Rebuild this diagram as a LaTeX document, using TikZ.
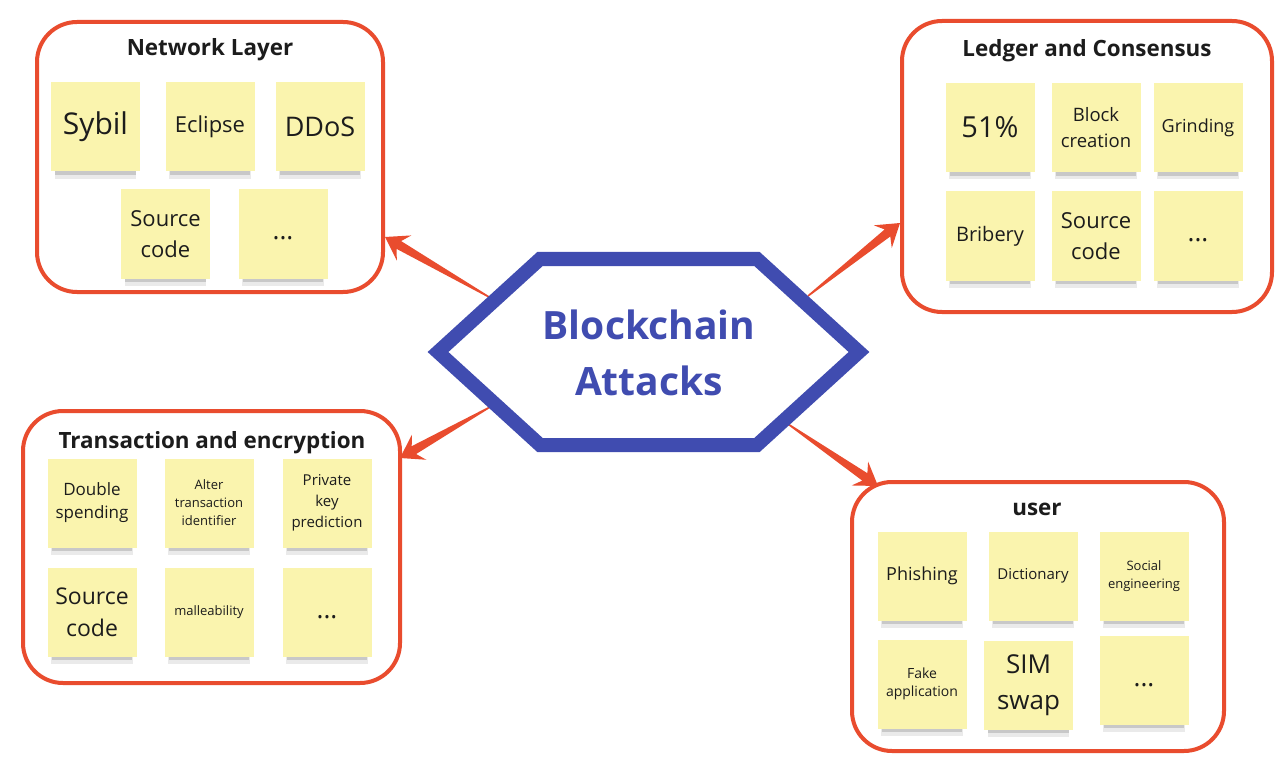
\documentclass[tikz,border=0pt]{standalone}
\usepackage{fontspec}
\setmainfont{Open Sans}
\usetikzlibrary{calc,shadows}
\definecolor{boxred}{RGB}{233,76,46}
\definecolor{hexblue}{RGB}{64,76,176}
\definecolor{sticky}{RGB}{250,244,174}
\definecolor{ink}{RGB}{28,28,28}
\newcommand\fs[2]{\fontsize{#1}{#2}\selectfont}
\newcommand\taperarrow[2]{%
  \path coordinate (tmpj) at ($(#2)!16pt!(#1)$)
        coordinate (tmpb) at ($(#2)!22pt!(#1)$);
  \fill[boxred] ($(#1)!0.8pt!90:(#2)$) -- ($(tmpj)!4.5pt!90:(#2)$)
     -- ($(tmpb)!14.5pt!90:(#2)$) -- (#2) -- ($(tmpb)!14.5pt!-90:(#2)$)
     -- ($(tmpj)!4.5pt!-90:(#2)$) -- ($(#1)!0.8pt!-90:(#2)$) -- cycle;}
\tikzset{
  group/.style={draw=boxred, line width=4pt, rounded corners=40pt, inner sep=0pt},
  gtitle/.style={anchor=base, text=ink, font=\bfseries\fs{22.4}{26}, inner sep=0pt},
  note/.style={fill=sticky, minimum width=89pt, minimum height=89pt, inner sep=0pt,
    align=center, text=ink,
    general shadow={fill=black!45, opacity=0.18, shadow yshift=-12pt, shadow scale=0.92},
    general shadow={fill=black!60, opacity=0.25, shadow yshift=-9pt, shadow scale=0.9}},
  hextext/.style={anchor=base, text=hexblue, font=\bfseries\fs{39}{46}, inner sep=0pt}
}
\begin{document}
\begin{tikzpicture}[x=1pt, y=-1pt]
\fill[white] (0,0) rectangle (1288,770);
\useasboundingbox (0,0) rectangle (1288,770);

% group boxes
\node[group, minimum width=346pt, minimum height=270pt] (net) at (210,157) {};
\node[group, minimum width=370pt, minimum height=291pt] (ledger) at (1087,166.5) {};
\node[group, minimum width=377pt, minimum height=272pt] (trans) at (211.5,547) {};
\node[group, minimum width=372pt, minimum height=269pt] (user) at (1038,616.5) {};

% titles
\node[gtitle] (tnet) at (210,56) {Network Layer};
\node[gtitle] (tledger) at (1087,56.5) {Ledger and Consensus};
\node[gtitle] (ttrans) at (212,448) {Transaction and encryption};
\node[gtitle] (tuser) at (1037,515) {user};

% Network layer notes
\node[note, font=\fs{30}{36}] (sybil) at (95.5,127) {Sybil};
\node[note, font=\fs{22}{26}] (eclipse) at (210,127) {Eclipse};
\node[note, font=\fs{27}{32}] (ddos) at (320,127) {DDoS};
\node[note, font=\fs{22}{31}] (src1) at (165.5,234) {Source\\code};
\node[note, font=\fs{26}{30}] (more1) at (283,234) {\strut...};

% Ledger notes
\node[note, font=\fs{29}{34}] (fiftyone) at (990,127.5) {51\%};
\node[note, font=\fs{18.5}{26}] (blockc) at (1096,127.5) {Block\\creation};
\node[note, font=\fs{18}{22}] (grind) at (1198,127.5) {Grinding};
\node[note, font=\fs{20}{24}] (bribe) at (990,236) {Bribery};
\node[note, font=\fs{22}{31}] (src2) at (1096,236) {Source\\code};
\node[note, font=\fs{26}{30}] (more2) at (1198,236) {\strut...};

% Transaction notes
\node[note, font=\fs{17}{23}] (double) at (92,503) {Double\\spending};
\node[note, font=\fs{13}{18}] (alter) at (209,503) {Alter\\transaction\\identifier};
\node[note, font=\fs{15}{21}] (privk) at (327,503) {Private\\key\\prediction};
\node[note, font=\fs{23}{32}] (src3) at (92,612) {Source\\code};
\node[note, font=\fs{13}{16}] (malle) at (209,612) {malleability};
\node[note, font=\fs{26}{30}] (more3) at (327,612) {\strut...};

% User notes
\node[note, font=\fs{18}{22}] (phish) at (922,576) {Phishing};
\node[note, font=\fs{15}{18}] (dict) at (1033,576) {Dictionary};
\node[note, font=\fs{13}{18.5}] (social) at (1144,576) {Social\\engineering};
\node[note, font=\fs{14}{18}] (fake) at (922,684) {Fake\\application};
\node[note, font=\fs{26}{36}] (sim) at (1028.5,685) {SIM\\swap};
\node[note, font=\fs{26}{30}] (more4) at (1144,680) {\strut...};

% arrows
\coordinate (a1s) at (489,297);
\coordinate (a1t) at (385,237);
\coordinate (a2s) at (808,296);
\coordinate (a2t) at (900,223);
\coordinate (a3s) at (490,407);
\coordinate (a3t) at (400,458);
\coordinate (a4s) at (788,424);
\coordinate (a4t) at (878,486);
\taperarrow{a1s}{a1t}
\taperarrow{a2s}{a2t}
\taperarrow{a3s}{a3t}
\taperarrow{a4s}{a4t}

% hexagon
\draw[hexblue, line width=14pt, fill=white, line join=miter]
  (540,259) -- (757,259) -- (859,352) -- (757,445) -- (540,445) -- (438,352) -- cycle;
\node[hextext] (hex1) at (649,339) {Blockchain};
\node[hextext] (hex2) at (649,395) {Attacks};
\end{tikzpicture}
\end{document}
